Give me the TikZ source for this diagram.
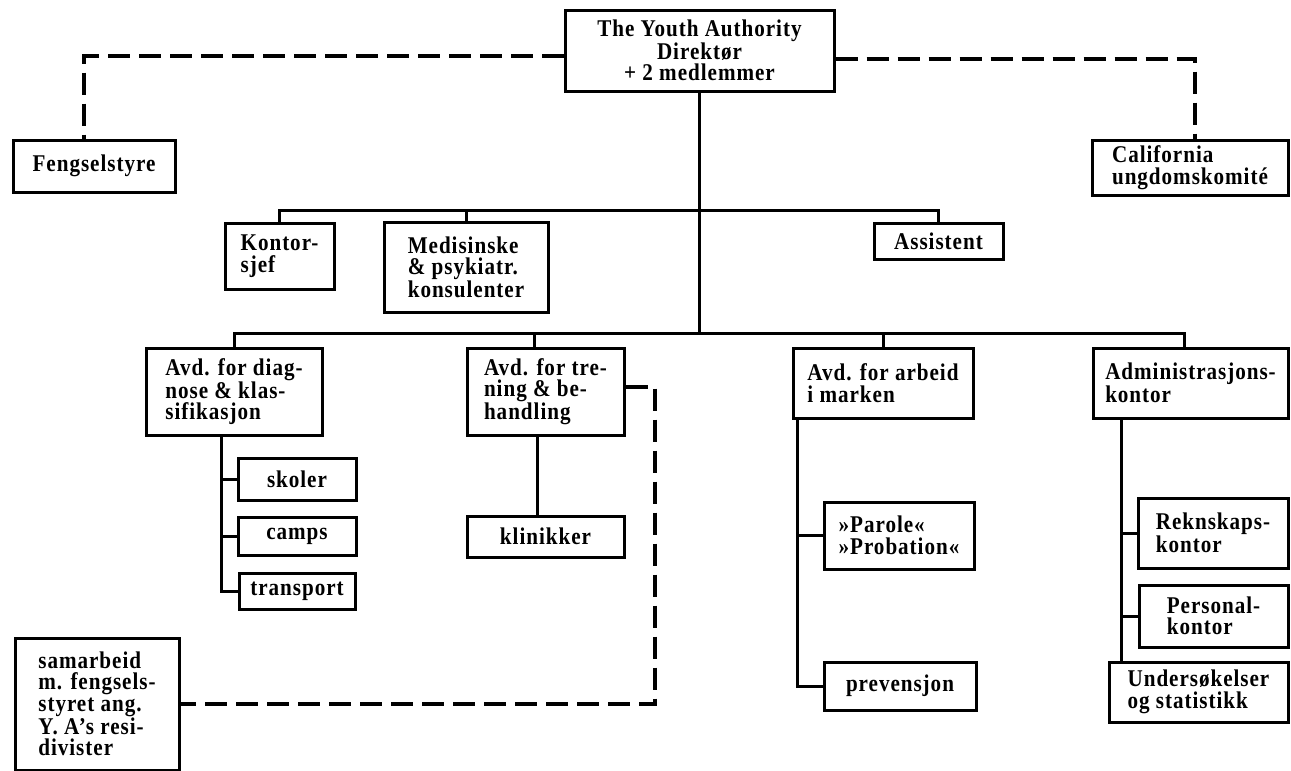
\documentclass[tikz,border=0pt]{standalone}
\usepackage{fontspec}
\newfontfamily\orgfont[Ligatures=TeX,LetterSpace=4,FakeStretch=0.88]{Liberation Serif}
\usetikzlibrary{calc}

\begin{document}
\begin{tikzpicture}[x=1pt,y=-1pt,
    box/.style={draw, line width=3pt, align=left, inner sep=0pt,
      font=\orgfont\bfseries\fontsize{24}{21.5}\selectfont},
    link/.style={line width=3pt},
    dlink/.style={line width=3.2pt, dash pattern=on 22pt off 9pt}]
  \useasboundingbox (0,0) rectangle (1291,771);
  % top level
  \node[box, align=center, minimum width=269pt, minimum height=81pt] (ya) at (699.5,50.5) {The Youth Authority\\Direktør\\+ 2 medlemmer};
  \node[box, minimum width=162pt, minimum height=52pt] (fengsel) at (94,166) {Fengselstyre};
  \node[box, minimum width=196pt, minimum height=55pt] (calif) at (1190,167.5) {California\\ungdomskomité};
  % staff
  \node[box, minimum width=109pt, minimum height=66pt] (kontor) at (279.5,256) {Kontor-\\sjef};
  \node[box, minimum width=164pt, minimum height=90pt] (medis) at (466,267) {Medisinske\\\& psykiatr.\\konsulenter};
  \node[box, minimum width=129pt, minimum height=36pt] (assist) at (938.5,241) {Assistent};
  % divisions
  \node[box, minimum width=176pt, minimum height=87pt] (diag) at (234,391.5) {Avd. for diag-\\nose \& klas-\\sifikasjon};
  \node[box, minimum width=157pt, minimum height=87pt] (trening) at (545.5,391.5) {Avd. for tre-\\ning \& be-\\handling};
  \node[box, minimum width=180pt, minimum height=70pt] (arbeid) at (883,383) {Avd. for arbeid\\i marken};
  \node[box, minimum width=195pt, minimum height=70pt] (adm) at (1190.5,383) {Administrasjons-\\kontor};
  % sub units
  \node[box, align=center, minimum width=118pt, minimum height=42pt] (skoler) at (297,479) {skoler};
  \node[box, align=center, minimum width=118pt, minimum height=38pt] (camps) at (297,536) {camps};
  \node[box, align=center, minimum width=116pt, minimum height=36pt] (transp) at (297,591) {transport};
  \node[box, align=center, minimum width=157pt, minimum height=41pt] (klinik) at (545.5,536.5) {klinikker};
  \node[box, minimum width=150pt, minimum height=67pt] (parole) at (899,535.5) {»Parole«\\»Probation«};
  \node[box, align=center, minimum width=152pt, minimum height=48pt] (prevens) at (900,686) {prevensjon};
  \node[box, minimum width=150pt, minimum height=70pt] (reknsk) at (1213,533) {Reknskaps-\\kontor};
  \node[box, minimum width=149pt, minimum height=62pt] (personal) at (1213.5,616) {Personal-\\kontor};
  \node[box, minimum width=179pt, minimum height=60pt] (unders) at (1198.5,692) {Undersøkelser\\og statistikk};
  \node[box, minimum width=164pt, minimum height=132pt] (samarb) at (97,704) {samarbeid\\m. fengsels-\\styret ang.\\Y. A’s resi-\\divister};

  % buses and stems
  \coordinate (bus1) at (0,210);
  \coordinate (bus2) at (0,333);
  \coordinate (trtop) at ([xshift=-11pt]trening.north);
  \coordinate (admtop) at ([xshift=-6pt]adm.north);
  \coordinate (diagstem) at ([xshift=-13pt]diag.south);
  \coordinate (arbstem) at ([xshift=6pt]arbeid.south west);
  \coordinate (admstem) at ([xshift=30pt]adm.south west);

  \draw[link] (ya.south) -- (ya.south |- bus2);
  \draw[link] (kontor.north) -- (kontor.north |- bus1) -- (assist.north |- bus1) -- (assist.north);
  \draw[link] (medis.north) -- (medis.north |- bus1);
  \draw[link] (diag.north) -- (diag.north |- bus2) -- (admtop |- bus2) -- (admtop);
  \draw[link] (trtop |- bus2) -- (trtop);
  \draw[link] (arbeid.north |- bus2) -- (arbeid.north);

  \draw[link] (diagstem) |- (transp.west);
  \draw[link] (diagstem |- skoler.west) -- (skoler.west);
  \draw[link] (diagstem |- camps.west) -- (camps.west);
  \draw[link] ([xshift=-8pt]trening.south) -- ([xshift=-8pt]klinik.north);
  \draw[link] (arbstem) |- (prevens.west);
  \draw[link] (arbstem |- parole.west) -- (parole.west);
  \draw[link] (admstem) -- (admstem |- unders.north);
  \draw[link] (admstem |- reknsk.west) -- (reknsk.west);
  \draw[link] (admstem |- personal.west) -- (personal.west);

  % dashed links
  \coordinate (dl) at (84,56);
  \coordinate (dr) at (1195,59);
  \coordinate (dt) at (655,387);
  \draw[dlink] (ya.west |- dl) -- (dl) -- (dl |- fengsel.north);
  \draw[dlink] (ya.east |- dr) -- (dr) -- (dr |- calif.north);
  \draw[dlink] (trening.east |- dt) -- (dt) -- (dt |- samarb.east) -- (samarb.east);
\end{tikzpicture}
\end{document}
